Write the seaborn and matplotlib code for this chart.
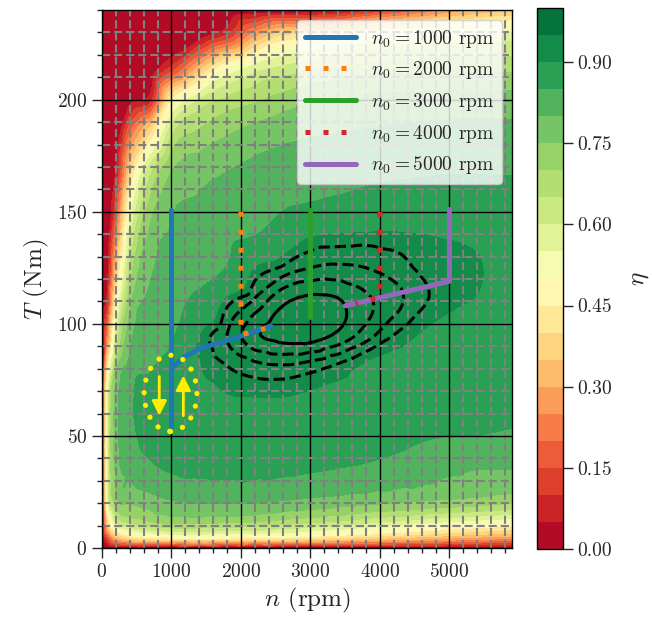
import numpy as np
import pandas as pd
import matplotlib
matplotlib.use("Agg")
import matplotlib.pyplot as plt
import matplotlib.tri as mtri
from matplotlib.patches import Ellipse
from matplotlib.lines import Line2D
import seaborn as sns

# efficiency map on a (speed, torque) grid
n_nodes = [0, 80, 200, 400, 700, 1000, 1400, 1800, 2200, 2600, 3000, 3400, 3800, 4200, 4600, 5000, 5400, 5900]
T_nodes = [0, 4, 10, 20, 35, 50, 65, 80, 95, 110, 125, 140, 155, 170, 185, 200, 215, 230, 240]

eta_grid = [
    [0, 0, 0, 0, 0, 0, 0, 0, 0, 0, 0, 0, 0, 0, 0, 0, 0, 0],                                                              # T=0
    [0, 0.12, 0.28, 0.36, 0.40, 0.42, 0.42, 0.42, 0.41, 0.40, 0.38, 0.36, 0.34, 0.32, 0.30, 0.28, 0.26, 0.24],            # T=4
    [0, 0.33, 0.55, 0.62, 0.66, 0.68, 0.68, 0.67, 0.66, 0.64, 0.62, 0.60, 0.57, 0.55, 0.52, 0.50, 0.48, 0.46],            # T=10
    [0, 0.52, 0.72, 0.75, 0.77, 0.79, 0.80, 0.80, 0.80, 0.79, 0.78, 0.77, 0.76, 0.75, 0.74, 0.73, 0.72, 0.70],            # T=20
    [0, 0.57, 0.76, 0.81, 0.84, 0.855, 0.86, 0.862, 0.862, 0.86, 0.855, 0.848, 0.84, 0.83, 0.82, 0.81, 0.80, 0.80],       # T=35
    [0, 0.57, 0.77, 0.835, 0.862, 0.878, 0.885, 0.89, 0.892, 0.892, 0.89, 0.885, 0.875, 0.865, 0.855, 0.85, 0.85, 0.845], # T=50
    [0, 0.55, 0.77, 0.84, 0.868, 0.885, 0.89, 0.897, 0.898, 0.898, 0.895, 0.893, 0.89, 0.882, 0.875, 0.868, 0.862, 0.855],# T=65
    [0, 0.42, 0.72, 0.82, 0.848, 0.862, 0.898, 0.909, 0.915, 0.917, 0.913, 0.906, 0.895, 0.888, 0.882, 0.876, 0.87, 0.864],# T=80
    [0, 0.22, 0.58, 0.78, 0.83, 0.845, 0.899, 0.92, 0.938, 0.944, 0.945, 0.938, 0.925, 0.91, 0.898, 0.888, 0.88, 0.872],  # T=95
    [0, 0.08, 0.45, 0.73, 0.812, 0.835, 0.862, 0.905, 0.922, 0.938, 0.943, 0.941, 0.932, 0.924, 0.912, 0.904, 0.898, 0.882],# T=110
    [0, 0.03, 0.33, 0.66, 0.79, 0.82, 0.83, 0.852, 0.90, 0.912, 0.92, 0.922, 0.92, 0.915, 0.908, 0.905, 0.902, 0.885],    # T=125
    [0, 0.01, 0.22, 0.58, 0.765, 0.805, 0.825, 0.838, 0.848, 0.875, 0.897, 0.90, 0.902, 0.902, 0.90, 0.897, 0.893, 0.882],# T=140
    [0, 0, 0.12, 0.48, 0.71, 0.785, 0.805, 0.82, 0.83, 0.84, 0.848, 0.855, 0.862, 0.865, 0.866, 0.866, 0.865, 0.862],     # T=155
    [0, 0, 0.04, 0.35, 0.62, 0.74, 0.775, 0.795, 0.81, 0.82, 0.825, 0.83, 0.835, 0.84, 0.843, 0.845, 0.845, 0.845],       # T=170
    [0, 0, 0, 0.20, 0.40, 0.64, 0.71, 0.745, 0.77, 0.785, 0.795, 0.80, 0.805, 0.81, 0.812, 0.815, 0.815, 0.815],          # T=185
    [0, 0, 0, 0.03, 0.08, 0.45, 0.60, 0.66, 0.69, 0.72, 0.74, 0.75, 0.76, 0.765, 0.768, 0.77, 0.77, 0.77],                # T=200
    [0, 0, 0, 0, 0, 0.10, 0.30, 0.48, 0.56, 0.60, 0.63, 0.65, 0.66, 0.67, 0.675, 0.68, 0.68, 0.68],                       # T=215
    [0, 0, 0, 0, 0, 0, 0, 0.08, 0.25, 0.36, 0.40, 0.43, 0.46, 0.49, 0.51, 0.53, 0.54, 0.55],                              # T=230
    [0, 0, 0, 0, 0, 0, 0, 0, 0, 0, 0, 0.02, 0.08, 0.14, 0.20, 0.26, 0.30, 0.34],                                          # T=240
]

# operating trajectories
n_1000 = [1000, 1000]
T_1000 = [151, 53]
n_1000_branch = [1000, 1170, 1410, 1900, 2430]
T_1000_branch = [80, 85, 89, 93.5, 99]
n_2000 = [2000, 2000, 2350]
T_2000 = [150, 95, 98]
n_3000 = [3000, 3000]
T_3000 = [151, 103]
n_4000 = [4000, 4000, 3650]
T_4000 = [150, 112, 109]
n_5000 = [5000, 5000, 3500]
T_5000 = [151, 119, 108]

legend_labels = [r"$n_0 = 1000$ rpm", r"$n_0 = 2000$ rpm", r"$n_0 = 3000$ rpm",
                 r"$n_0 = 4000$ rpm", r"$n_0 = 5000$ rpm"]

# yellow marker: dotted ellipse + two arrows
ring_center = (987, 69)
ring_size = (760, 34)
arrow_down = ((825, 76.5), (825, 59))
arrow_up = ((1171, 59), (1171, 77))

sns.set_style("ticks")
plt.rcParams["font.family"] = "serif"
plt.rcParams["font.serif"] = ["cmr10", "DejaVu Serif"]
plt.rcParams["mathtext.fontset"] = "cm"
plt.rcParams["axes.formatter.use_mathtext"] = True
plt.rcParams["axes.unicode_minus"] = False

fig = plt.figure(figsize=(6.52, 6.27), dpi=100)
ax = fig.add_axes([0.1564, 0.126, 0.6288, 0.858])
cax = fig.add_axes([0.8236, 0.1244, 0.04, 0.863])

NN, TT = np.meshgrid(n_nodes, T_nodes)
Z = np.array(eta_grid, dtype=float)

# smooth contours via matplotlib's tri refiner (scaled coords so the cells are ~square)
tri = mtri.Triangulation(NN.ravel() / 400.0, TT.ravel() / 15.0)
interp = mtri.CubicTriInterpolator(tri, Z.ravel(), kind="geom")
refiner = mtri.UniformTriRefiner(tri)
tri_f, z_f = refiner.refine_field(Z.ravel(), triinterpolator=interp, subdiv=3)
tri_f = mtri.Triangulation(tri_f.x * 400.0, tri_f.y * 15.0, tri_f.triangles)
z_f = np.clip(z_f, 0, 1)

levels = np.linspace(0, 1, 21)
cs = ax.tricontourf(tri_f, z_f, levels=levels, cmap="RdYlGn", zorder=1)
ax.tricontour(tri_f, z_f, levels=[0.91, 0.92, 0.93, 0.94], colors="k",
              linewidths=2.2, linestyles=["--", "--", "--", "-"], zorder=3)

colors = ["#1f77b4", "#ff7f0e", "#2ca02c", "#d62728", "#9467bd"]
dots = (0, (1, 2.6))
paths = [
    (n_1000, T_1000, colors[0], "-"),
    (n_1000_branch, T_1000_branch, colors[0], "-"),
    (n_2000, T_2000, colors[1], dots),
    (n_3000, T_3000, colors[2], "-"),
    (n_5000, T_5000, colors[4], "-"),
    (n_4000, T_4000, colors[3], dots),
]
for xs, ys, c, ls in paths:
    df = pd.DataFrame({"n": xs, "T": ys})
    sns.lineplot(data=df, x="n", y="T", sort=False, estimator=None, color=c,
                 linewidth=3.6, linestyle=ls, ax=ax, legend=False, zorder=4)

yellow = "#ffee00"
ring = Ellipse(ring_center, ring_size[0], ring_size[1], fill=False, edgecolor=yellow,
               linewidth=3.8, linestyle=(0, (0.01, 2.4)), capstyle="round", zorder=5)
ax.add_patch(ring)
for tail, tip in [arrow_down, arrow_up]:
    ax.annotate("", xy=tip, xytext=tail, zorder=5,
                arrowprops=dict(arrowstyle="-|>", color=yellow, lw=2,
                                mutation_scale=22, shrinkA=0, shrinkB=0))

ax.set_xlim(0, 5900)
ax.set_ylim(0, 240)
ax.set_xticks([0, 1000, 2000, 3000, 4000, 5000])
ax.set_yticks([0, 50, 100, 150, 200])
ax.set_xticks(np.arange(0, 5900, 200), minor=True)
ax.set_yticks(np.arange(0, 241, 10), minor=True)
ax.set_axisbelow(False)
ax.grid(which="major", color="k", linewidth=1.0, linestyle="-")
ax.grid(which="minor", color="grey", linewidth=1.5, linestyle=(0, (3.9, 1.9)))
ax.tick_params(which="major", direction="out", length=7, width=1, labelsize=14)
ax.tick_params(which="minor", direction="out", length=3.5, width=1)
for sp in ax.spines.values():
    sp.set_visible(True)
    sp.set_color("k")
    sp.set_linewidth(1.0)
    sp.set_zorder(6)

ax.set_xlabel(r"$n$ (rpm)", fontsize=18)
ax.set_ylabel(r"$T$ (Nm)", fontsize=18)

handles = [Line2D([], [], color=colors[0], lw=3.6),
           Line2D([], [], color=colors[1], lw=3.6, linestyle=dots),
           Line2D([], [], color=colors[2], lw=3.6),
           Line2D([], [], color=colors[3], lw=3.6, linestyle=dots),
           Line2D([], [], color=colors[4], lw=3.6)]
leg = ax.legend(handles, legend_labels, loc="upper right", fontsize=14,
                framealpha=0.8, fancybox=True, handlelength=2.6, labelspacing=0.5)
leg.set_zorder(7)

cb = fig.colorbar(cs, cax=cax, ticks=[0, 0.15, 0.3, 0.45, 0.6, 0.75, 0.9], format="%.2f")
cb.set_label(r"$\eta$", fontsize=18, labelpad=12)
cb.ax.tick_params(labelsize=14, length=7, width=1, direction="out")
cb.outline.set_linewidth(1.0)
cb.outline.set_edgecolor("k")

fig.savefig("out.png", dpi=100)
